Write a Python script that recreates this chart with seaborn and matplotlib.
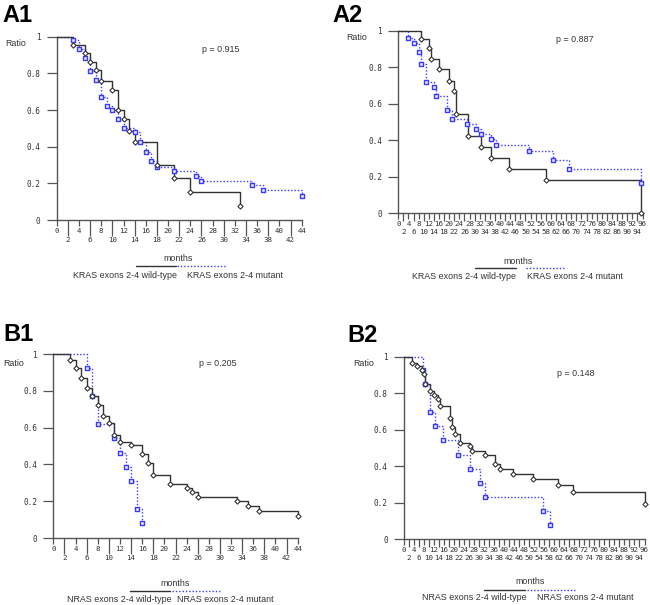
"""
Four Kaplan-Meier style panels (KRAS / NRAS exons 2-4, wild-type vs mutant).
Values read off the published figure by eye.
"""
import matplotlib
matplotlib.use("Agg")
import matplotlib.pyplot as plt
import numpy as np
import pandas as pd
import seaborn as sns
from matplotlib.lines import Line2D

# ── Data ──────────────────────────────────────────────────────────────────────
A1_WT_MONTHS = [0, 3, 5, 6, 7, 8, 10, 11, 12, 13, 14, 18, 21, 24, 33]
A1_WT_RATIO = [1, 0.955, 0.91, 0.864, 0.818, 0.758, 0.709, 0.6, 0.549, 0.488,
               0.424, 0.30, 0.23, 0.155, 0.078]
A1_MUT_MONTHS = [0, 3, 4, 5, 6, 7, 8, 9, 10, 11, 12, 14, 15, 16, 17, 18, 21,
                 25, 26, 35, 37, 44]
A1_MUT_RATIO = [1, 0.982, 0.933, 0.885, 0.815, 0.764, 0.669, 0.624, 0.6, 0.551,
                0.504, 0.478, 0.424, 0.373, 0.322, 0.291, 0.267, 0.242, 0.213,
                0.191, 0.162, 0.131]

A2_WT_MONTHS = [0, 9, 12, 12.7, 16, 20, 22, 22.8, 27.3, 32.5, 36.4, 43.5, 58,
                95.6]
A2_WT_RATIO = [1, 0.954, 0.903, 0.845, 0.788, 0.726, 0.668, 0.546, 0.423,
               0.365, 0.301, 0.241, 0.182, 0]
A2_MUT_MONTHS = [0, 4, 6, 8, 9, 11, 14, 15, 19, 21, 27, 30.6, 32.6, 36.4, 38.5,
                 51.2, 61, 67.2, 95.6]
A2_MUT_RATIO = [1, 0.958, 0.934, 0.881, 0.816, 0.719, 0.693, 0.642, 0.566,
                0.516, 0.487, 0.462, 0.432, 0.405, 0.372, 0.341, 0.292, 0.241,
                0.164]

B1_WT_MONTHS = [0, 3, 4, 5, 6, 7, 8, 9, 10, 11, 12, 14, 16, 17, 18, 21, 24, 25,
                26, 33, 35, 37, 44]
B1_WT_RATIO = [1, 0.966, 0.926, 0.871, 0.813, 0.774, 0.723, 0.663, 0.625,
               0.562, 0.522, 0.503, 0.456, 0.409, 0.342, 0.294, 0.271, 0.248,
               0.222, 0.201, 0.174, 0.149, 0.12]
B1_MUT_MONTHS = [0, 6, 7, 8, 11, 12, 13, 14, 15, 16]
B1_MUT_RATIO = [1, 0.924, 0.772, 0.618, 0.543, 0.464, 0.388, 0.31, 0.158, 0.08]

B2_WT_MONTHS = [0, 3.2, 5.3, 7.3, 7.9, 8.5, 10.5, 11.8, 13.5, 14.5, 18.5,
                19.3, 20.4, 22.5, 26.4, 27.2, 32.4, 36.3, 38.4, 43.4, 51.3,
                61.6, 67.5, 96]
B2_WT_RATIO = [1, 0.967, 0.951, 0.925, 0.905, 0.85, 0.812, 0.792, 0.768, 0.73,
               0.664, 0.615, 0.577, 0.529, 0.51, 0.485, 0.46, 0.41, 0.387,
               0.359, 0.33, 0.297, 0.257, 0.193]
B2_MUT_MONTHS = [0, 7.6, 8.3, 10.4, 12.5, 15.4, 21.6, 26.3, 30.4, 32.5, 55.3,
                 58.3]
B2_MUT_RATIO = [1, 0.927, 0.849, 0.695, 0.62, 0.542, 0.462, 0.385, 0.31, 0.232,
                0.157, 0.078]

Y_TICKS = [0, 0.2, 0.4, 0.6, 0.8, 1]
Y_TICK_LABELS = ["0", "0.2", "0.4", "0.6", "0.8", "1"]

PANELS = [
    # name, gene, p, xmax, wt months/ratio, mut months/ratio
    ("A1", "KRAS", "p = 0.915", 44, A1_WT_MONTHS, A1_WT_RATIO, A1_MUT_MONTHS, A1_MUT_RATIO),
    ("A2", "KRAS", "p = 0.887", 96, A2_WT_MONTHS, A2_WT_RATIO, A2_MUT_MONTHS, A2_MUT_RATIO),
    ("B1", "NRAS", "p = 0.205", 44, B1_WT_MONTHS, B1_WT_RATIO, B1_MUT_MONTHS, B1_MUT_RATIO),
    ("B2", "NRAS", "p = 0.148", 96, B2_WT_MONTHS, B2_WT_RATIO, B2_MUT_MONTHS, B2_MUT_RATIO),
]

# ── Layout (pixel positions measured on the 650x605 reference) ───────────────
W, H = 650, 605
AXES_PX = {  # x at month 0, x at last month, y at ratio 1, y at ratio 0
    "A1": (56.7, 301.7, 36.7, 220.0),
    "A2": (398.3, 642.5, 30.7, 213.3),
    "B1": (53.3, 297.7, 354.0, 538.0),
    "B2": (404.0, 644.5, 356.7, 539.3),
}
TEXT_PX = {  # panel label, Ratio, p-value, months, legend lines y, wt label, mut label
    "A1": dict(tag=(2, 4), ratio=(5, 43), p=(202, 50), months=(178, 259),
               black=(136, 176, 266), blue=(177, 227, 266), wt=(125, 276), mut=(187, 276)),
    "A2": dict(tag=(332, 4), ratio=(346, 38), p=(556, 39), months=(518, 261),
               black=(475, 516, 268), blue=(526, 565, 268), wt=(464, 277), mut=(527, 277)),
    "B1": dict(tag=(3, 323), ratio=(3, 363), p=(199, 364), months=(175, 584),
               black=(130, 170, 591), blue=(172, 220, 591), wt=(119, 600), mut=(177, 600)),
    "B2": dict(tag=(347, 324), ratio=(353, 364), p=(557, 373), months=(530, 581),
               black=(484, 525, 590), blue=(527, 575, 590), wt=(474, 597), mut=(537, 597)),
}

BLACK = "#333333"
BLUE = "#3a3aff"
AXIS = "#555555"
TEXT = "#333333"
SANS = ["Liberation Sans", "DejaVu Sans"]
MONO = ["DejaVu Sans Mono"]


def fx(x):
    return x / W


def fy(y):
    return 1 - y / H


def curve_frame(months, ratio):
    return pd.DataFrame({"month": months, "ratio": ratio})


def draw_panel(fig, name, gene, ptext, xmax, wt_m, wt_r, mut_m, mut_r):
    x0, x1, y1, y0 = AXES_PX[name]
    ax = fig.add_axes([fx(x0), fy(y0), (x1 - x0) / W, (y0 - y1) / H])

    wt = curve_frame(wt_m, wt_r)
    mut = curve_frame(mut_m, mut_r)

    sns.lineplot(data=wt, x="month", y="ratio", ax=ax, estimator=None,
                 drawstyle="steps-post", color=BLACK, linewidth=1.0,
                 clip_on=False, zorder=3)
    sns.lineplot(data=mut, x="month", y="ratio", ax=ax, estimator=None,
                 drawstyle="steps-post", color=BLUE, linewidth=1.0,
                 linestyle=(0, (1, 1.4)), clip_on=False, zorder=2)
    sns.scatterplot(data=wt.iloc[1:], x="month", y="ratio", ax=ax, marker="D",
                    s=7, facecolor="white", edgecolor=BLACK, linewidth=0.8,
                    clip_on=False, zorder=5)
    sns.scatterplot(data=mut.iloc[1:], x="month", y="ratio", ax=ax, marker="s",
                    s=8, facecolor="#e8e8ff", edgecolor=BLUE, linewidth=1.0,
                    clip_on=False, zorder=4)

    ax.set_xlim(0, xmax)
    ax.set_ylim(0, 1)
    ax.set_xlabel("")
    ax.set_ylabel("")
    for side in ("top", "right"):
        ax.spines[side].set_visible(False)
    for side in ("left", "bottom"):
        ax.spines[side].set_color(AXIS)
        ax.spines[side].set_linewidth(1.0)

    major = np.arange(0, xmax + 1, 4)
    minor = np.arange(2, xmax, 4)
    ax.set_xticks(major)
    ax.set_xticklabels([str(v) for v in major], fontfamily=MONO, fontsize=5.4,
                       color=TEXT)
    ax.set_xticks(minor, minor=True)
    ax.set_xticklabels([str(v) for v in minor], minor=True, fontfamily=MONO,
                       fontsize=5.4, color=TEXT)
    ax.set_yticks(Y_TICKS)
    ax.set_yticklabels(Y_TICK_LABELS, fontfamily=MONO, fontsize=5.6, color=TEXT)

    if xmax > 50:
        minor_len, minor_pad = 5.8, 5.2
    else:
        minor_len, minor_pad = 11.5, 1.0
    ax.tick_params(axis="x", which="major", length=4.3, width=0.9, pad=1.6,
                   color=AXIS, direction="out")
    ax.tick_params(axis="x", which="minor", length=minor_len, width=0.9,
                   pad=minor_pad, color=AXIS, direction="out")
    ax.tick_params(axis="y", which="major", length=7.2, width=0.9, pad=4.5,
                   color=AXIS, direction="out")

    t = TEXT_PX[name]
    fig.text(fx(t["tag"][0]), fy(t["tag"][1]), name, fontfamily=SANS,
             fontsize=17, fontweight="bold", ha="left", va="top", color="black")
    fig.text(fx(t["ratio"][0]), fy(t["ratio"][1]), "Ratio", fontfamily=SANS,
             fontsize=6.4, ha="left", va="center", color=TEXT)
    fig.text(fx(t["p"][0]), fy(t["p"][1]), ptext, fontfamily=SANS,
             fontsize=6.4, ha="left", va="center", color=TEXT)
    fig.text(fx(t["months"][0]), fy(t["months"][1]), "months", fontfamily=SANS,
             fontsize=6.4, ha="center", va="center", color=TEXT)

    bx0, bx1, by = t["black"]
    fig.add_artist(Line2D([fx(bx0), fx(bx1)], [fy(by), fy(by)], color=BLACK,
                          linewidth=1.0, transform=fig.transFigure))
    ux0, ux1, uy = t["blue"]
    fig.add_artist(Line2D([fx(ux0), fx(ux1)], [fy(uy), fy(uy)], color=BLUE,
                          linewidth=1.0, linestyle=(0, (1, 1.4)),
                          transform=fig.transFigure))
    fig.text(fx(t["wt"][0]), fy(t["wt"][1]), f"{gene} exons 2-4 wild-type",
             fontfamily=SANS, fontsize=6.4, ha="center", va="center", color=TEXT)
    fig.text(fx(t["mut"][0]), fy(t["mut"][1]), f"{gene} exons 2-4 mutant",
             fontfamily=SANS, fontsize=6.4, ha="left", va="center", color=TEXT)
    return ax


def main():
    sns.set_style("ticks")
    plt.rcParams["font.family"] = SANS
    fig = plt.figure(figsize=(W / 100, H / 100), dpi=100)
    fig.patch.set_facecolor("white")
    for panel in PANELS:
        draw_panel(fig, *panel)
    fig.savefig("out.png", dpi=100, facecolor="white")
    plt.close(fig)


if __name__ == "__main__":
    main()
